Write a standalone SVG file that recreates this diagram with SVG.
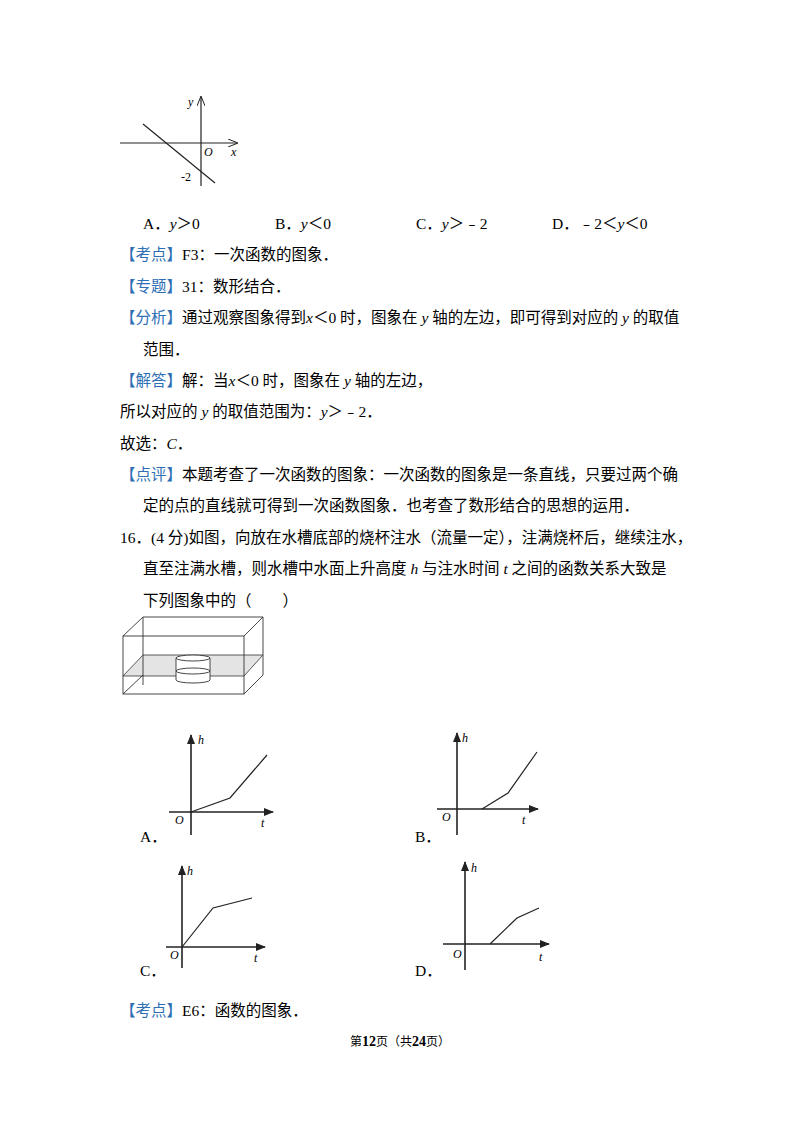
<svg xmlns="http://www.w3.org/2000/svg" width="800" height="1132" viewBox="0 0 800 1132">
<style>
text{font-family:"Liberation Serif","Noto Sans CJK SC",serif;font-size:15.5px;fill:#000}
.b{fill:#2e6fb5}
.i{font-style:italic}
.s{font-family:"Liberation Serif",serif;font-style:italic;font-size:12px}
.l{stroke:#222;stroke-width:1.2;fill:none}
.ax{stroke:#222;stroke-width:1.6;fill:none}
</style>
<defs><marker id="ar" markerWidth="10" markerHeight="8" refX="9" refY="4" orient="auto" markerUnits="userSpaceOnUse"><path d="M0,0 L10,4 L0,8 Z" fill="#222"/></marker>
<marker id="ao" markerWidth="10" markerHeight="8" refX="9" refY="4" orient="auto" markerUnits="userSpaceOnUse"><path d="M0,0 L10,4 L0,8" fill="none" stroke="#222"/></marker></defs>
<g id="graph1">
<line class="l" x1="120" y1="143" x2="237" y2="143" marker-end="url(#ao)"/>
<line class="l" x1="201" y1="186" x2="201" y2="97" marker-end="url(#ao)"/>
<line class="l" x1="143" y1="124" x2="215" y2="183"/>
<text class="s" x="188" y="106">y</text><text class="s" x="204" y="156">O</text><text class="s" x="231" y="156">x</text>
<text x="181" y="181" style="font-size:12px">-2</text>
</g>
<g id="text">
<text x="143" y="229">A．<tspan class="i">y</tspan>＞0</text>
<text x="275" y="229">B．<tspan class="i">y</tspan>＜0</text>
<text x="416" y="229">C．<tspan class="i">y</tspan>＞﹣2</text>
<text x="552" y="229">D．﹣2＜<tspan class="i">y</tspan>＜0</text>
<text x="120" y="260"><tspan class="b">【考点】</tspan>F3：一次函数的图象．</text>
<text x="120" y="292"><tspan class="b">【专题】</tspan>31：数形结合．</text>
<text x="120" y="323"><tspan class="b">【分析】</tspan>通过观察图象得到<tspan class="i">x</tspan>＜0 时，图象在 <tspan class="i">y</tspan> 轴的左边，即可得到对应的 <tspan class="i">y</tspan> 的取值</text>
<text x="143" y="355">范围．</text>
<text x="120" y="386"><tspan class="b">【解答】</tspan>解：当<tspan class="i">x</tspan>＜0 时，图象在 <tspan class="i">y</tspan> 轴的左边，</text>
<text x="120" y="417">所以对应的 <tspan class="i">y</tspan> 的取值范围为：<tspan class="i">y</tspan>＞﹣2．</text>
<text x="120" y="449">故选：<tspan class="i">C</tspan>．</text>
<text x="120" y="480"><tspan class="b">【点评】</tspan>本题考查了一次函数的图象：一次函数的图象是一条直线，只要过两个确</text>
<text x="143" y="511">定的点的直线就可得到一次函数图象．也考查了数形结合的思想的运用．</text>
<text x="120" y="543">16．(4 分)如图，向放在水槽底部的烧杯注水（流量一定），注满烧杯后，继续注水，</text>
<text x="143" y="574">直至注满水槽，则水槽中水面上升高度 <tspan class="i">h</tspan> 与注水时间 <tspan class="i">t</tspan> 之间的函数关系大致是</text>
<text x="143" y="606">下列图象中的（　　）</text>
<text x="120" y="1016"><tspan class="b">【考点】</tspan>E6：函数的图象．</text>
<text x="400" y="1046" text-anchor="middle" style="font-size:12px">第<tspan style="font-weight:bold;font-size:14px">12</tspan>页（共<tspan style="font-weight:bold;font-size:14px">24</tspan>页）</text>
</g>
<g id="tank">
<polygon points="123,676 244,676 263,655 143,655" fill="#e4e4e4" stroke="#333" stroke-width="0.8"/>
<rect x="123" y="636" width="121" height="58" fill="none" stroke="#333" stroke-width="0.9"/>
<polyline points="143,685 143,617 263,617 263,675 244,694" fill="none" stroke="#333" stroke-width="0.9"/>
<line x1="123" y1="636" x2="143" y2="617" stroke="#333" stroke-width="0.9"/>
<line x1="244" y1="636" x2="263" y2="617" stroke="#333" stroke-width="0.9"/>
<line x1="123" y1="694" x2="143" y2="675" stroke="#333" stroke-width="0.9"/>
<line x1="143" y1="675" x2="263" y2="675" stroke="#333" stroke-width="0.9" opacity="0"/>
<path d="M176,658 V680 A17,3 0 0 0 210,680 V658" fill="#fff" stroke="#333" stroke-width="0.9"/>
<ellipse cx="193" cy="658" rx="17" ry="3" fill="#fff" stroke="#333" stroke-width="0.9"/>
<ellipse cx="193" cy="671" rx="17" ry="3" fill="none" stroke="#333" stroke-width="0.9"/>
</g>
<g id="graphA">
<line class="ax" x1="191" y1="835" x2="191" y2="735" marker-end="url(#ar)"/>
<line class="ax" x1="169" y1="812" x2="273" y2="812" marker-end="url(#ar)"/>
<polyline class="l" points="191,812 230,798 267,755"/>
<text class="s" x="198" y="744">h</text><text class="s" x="175" y="824">O</text><text class="s" x="261" y="827">t</text>
<text x="140" y="842">A．</text>
</g>
<g id="graphB">
<line class="ax" x1="457" y1="835" x2="457" y2="733" marker-end="url(#ar)"/>
<line class="ax" x1="437" y1="809" x2="538" y2="809" marker-end="url(#ar)"/>
<polyline class="l" points="482,809 508,793 537,752"/>
<text class="s" x="462" y="742">h</text><text class="s" x="442" y="821">O</text><text class="s" x="522" y="824">t</text>
<text x="415" y="842">B．</text>
</g>
<g id="graphC">
<line class="ax" x1="182" y1="968" x2="182" y2="866" marker-end="url(#ar)"/>
<line class="ax" x1="166" y1="947" x2="265" y2="947" marker-end="url(#ar)"/>
<polyline class="l" points="182,947 213,908 252,898"/>
<text class="s" x="187" y="875">h</text><text class="s" x="170" y="959">O</text><text class="s" x="254" y="962">t</text>
<text x="140" y="976">C．</text>
</g>
<g id="graphD">
<line class="ax" x1="465" y1="970" x2="465" y2="862" marker-end="url(#ar)"/>
<line class="ax" x1="443" y1="944" x2="549" y2="944" marker-end="url(#ar)"/>
<polyline class="l" points="490,944 517,918 539,908"/>
<text class="s" x="471" y="872">h</text><text class="s" x="453" y="958">O</text><text class="s" x="539" y="961">t</text>
<text x="415" y="976">D．</text>
</g>
</svg>
